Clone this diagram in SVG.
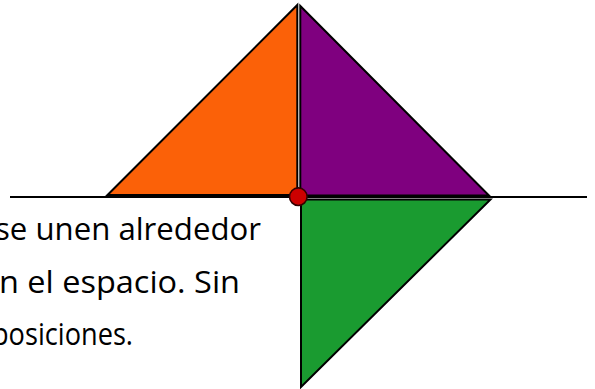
<svg xmlns="http://www.w3.org/2000/svg" width="595" height="389" viewBox="0 0 595 389">
<style>
.tri{stroke:#000;stroke-width:2;stroke-linejoin:miter}
.txt{font-family:"Open Sans","Noto Sans",sans-serif;font-size:31px;fill:#000}
</style>
<rect width="595" height="389" fill="#fff"/>
<g id="orange">
<polygon class="tri" points="107.5,195 297.3,5 297.3,195" fill="#FB6108"/>
</g>
<g id="purple">
<polygon class="tri" points="300.3,6 300.3,195.5 489,195.5" fill="#7F007F"/>
</g>
<g id="green">
<polygon class="tri" points="301,199.5 490.5,199.5 301,387" fill="#1A9B30"/>
</g>
<g id="baseline">
<line x1="10" y1="197" x2="587" y2="197" stroke="#000" stroke-width="2"/>
</g>
<g id="pivot">
<circle cx="298.3" cy="196.7" r="8.8" fill="#CC0000" stroke="#300" stroke-width="1.6"/>
</g>
<g id="text">
<text class="txt" x="-5" y="239.5" textLength="266" lengthAdjust="spacingAndGlyphs">se unen alrededor</text>
<text class="txt" x="-1" y="292.5" textLength="241" lengthAdjust="spacingAndGlyphs">n el espacio. Sin</text>
<text class="txt" x="-8" y="345" textLength="141" lengthAdjust="spacingAndGlyphs">posiciones.</text>
</g>
</svg>
